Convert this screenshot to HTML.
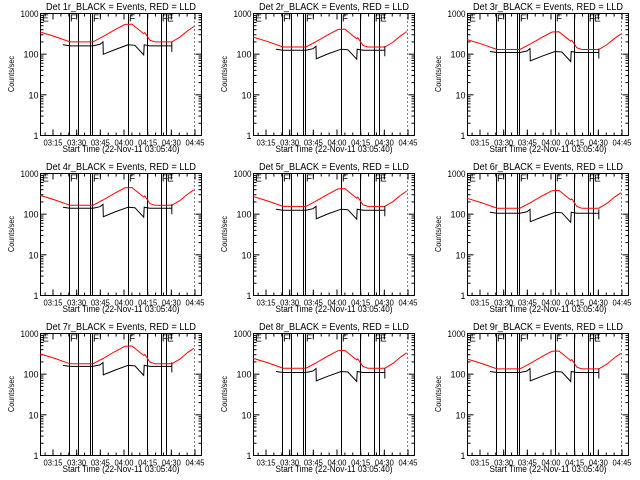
<!DOCTYPE html>
<html><head><meta charset="utf-8">
<style>
html,body{margin:0;padding:0;background:#fff;}
svg{display:block;font-family:"Liberation Sans",sans-serif;}
</style></head>
<body>
<svg id="chart" width="640" height="480" viewBox="0 0 640 480" xmlns="http://www.w3.org/2000/svg"></svg>
<script>
// Time in minutes after 03:00
const redTimes  = [6.8, 16.3, 25.8, 40.3, 46.7, 54.3, 60.6, 65, 70.1, 72.5, 73.2, 76.4, 79.5, 90.3, 95.3, 100.4, 104.2];
const redShape  = [1.75, 1.35, 1.0, 1.0, 1.35, 2.0, 2.7, 2.75, 1.9, 1.6, 1.7, 1.1, 1.0, 1.0, 1.3, 1.9, 2.4];
const blackTimes = [21.3, 25.8, 40.3, 44.8, 46.7, 46.9, 54.3, 62.5, 66.9, 72.5, 72.8, 76.4, 90.3];
const blackShape = [1.06, 1.0, 1.0, 1.09, 1.25, 0.62, 0.81, 1.06, 1.03, 0.6, 1.06, 1.0, 1.0];
const panelTitles = ["Det 1r_BLACK = Events, RED = LLD","Det 2r_BLACK = Events, RED = LLD","Det 3r_BLACK = Events, RED = LLD",
  "Det 4r_BLACK = Events, RED = LLD","Det 5r_BLACK = Events, RED = LLD","Det 6r_BLACK = Events, RED = LLD",
  "Det 7r_BLACK = Events, RED = LLD","Det 8r_BLACK = Events, RED = LLD","Det 9r_BLACK = Events, RED = LLD"];
const redLevels   = [200, 150, 130, 165, 155, 140, 180, 140, 135];
const blackLevels = [160, 125, 110, 140, 125, 105, 155, 110, 110];
const eventTimes  = [25.1, 30.8, 38.4, 39.7, 62.5, 74.6, 83.4, 86.6];
const eventLabels = [{t:7.5,s:"E"},{t:25.1,s:"F"},{t:39.7,s:"F"},{t:62.5,s:"F"},{t:83.4,s:"F"},{t:86.6,s:"E"}];
const dottedTime = 104.4;
const xTickTimes  = [15, 30, 45, 60, 75, 90, 105];
const xTickLabels = ["03:15","03:30","03:45","04:00","04:15","04:30","04:45"];
const yTickValues = [1, 10, 100, 1000];
const yTickLabels = ["1","10","100","1000"];

const svg = document.getElementById('chart');
const NS = "http://www.w3.org/2000/svg";
function mk(tag, attrs, parent){ const e=document.createElementNS(NS,tag); for(const k in attrs) e.setAttribute(k,attrs[k]); parent.appendChild(e); return e; }

for (let p=0;p<9;p++){
  const ox = [0,213,427][p%3], oy = [0,160,320][Math.floor(p/3)];
  const L=ox+40.5, R=ox+201.5, T=oy+13.5, B=oy+135.5;
  const xs = t => ox+53+(t-15)*1.578;
  const ys = v => B-(Math.log10(v))*(B-T)/3;
  const g = mk('g',{},svg);
  
  
  const title = mk('text',{x:ox+121,y:oy+10,'font-size':'10','text-anchor':'middle',fill:'#000',textLength:150,lengthAdjust:'spacingAndGlyphs'},g);
  title.textContent = panelTitles[p];
  
  
  const frame = mk('rect',{x:L,y:T,width:R-L,height:B-T,fill:'none',stroke:'#000','stroke-width':1},g);
  
  
  for (let d=0; d<3; d++){
    for (let m=2;m<10;m++){
      const y=ys(Math.pow(10,d)*m);
      mk('line',{x1:L,x2:L+3,y1:y,y2:y,stroke:'#000'},g);
      mk('line',{x1:R,x2:R-3,y1:y,y2:y,stroke:'#000'},g);
    }
  }
  yTickValues.forEach((v,i)=>{
    const y=ys(v);
    mk('line',{x1:L,x2:L+6,y1:y,y2:y,stroke:'#000'},g);
    mk('line',{x1:R,x2:R-6,y1:y,y2:y,stroke:'#000'},g);
    const tl=mk('text',{x:L-2,y:y+3.5,'font-size':'9','text-anchor':'end',fill:'#000'},g);
    tl.textContent=yTickLabels[i];
    if (yTickLabels[i].length===4){ tl.setAttribute('textLength','18'); tl.setAttribute('lengthAdjust','spacingAndGlyphs'); }
    
    
  });
  for (let t=10;t<=105;t+=5){
    const x=xs(t); if(x<L||x>R) continue;
    mk('line',{x1:x,x2:x,y1:B,y2:B-3,stroke:'#000'},g);
    mk('line',{x1:x,x2:x,y1:T,y2:T+3,stroke:'#000'},g);
  }
  xTickTimes.forEach((t,i)=>{
    const x=xs(t);
    mk('line',{x1:x,x2:x,y1:B,y2:B-6,stroke:'#000'},g);
    mk('line',{x1:x,x2:x,y1:T,y2:T+6,stroke:'#000'},g);
    const tl=mk('text',{x:x,y:B+10,'font-size':'8','text-anchor':'middle',fill:'#000',textLength:19,lengthAdjust:'spacingAndGlyphs'},g);
    tl.textContent=xTickLabels[i];
    
    
  });
  const xt=mk('text',{x:ox+121,y:oy+152,'font-size':'9','text-anchor':'middle',fill:'#000',textLength:117,lengthAdjust:'spacingAndGlyphs'},g);
  xt.textContent="Start Time (22-Nov-11 03:05:40)";
  
  
  const yt=mk('text',{x:ox+14,y:oy+74,'font-size':'8','text-anchor':'middle',fill:'#000',textLength:36,lengthAdjust:'spacingAndGlyphs',transform:`rotate(-90 ${ox+14} ${oy+74})`},g);
  yt.textContent="Counts/sec";
  
  
  eventTimes.forEach(t=>{
    const x=Math.round(xs(t))+0.5;
    const ln=mk('line',{x1:x,x2:x,y1:T,y2:B,stroke:'#000','stroke-width':1},g);
    
    
  });
  const dx=Math.round(xs(dottedTime))+0.5;
  const dl=mk('line',{x1:dx,x2:dx,y1:T,y2:B,stroke:'#000','stroke-dasharray':'1,3'},g);
  
  
  eventLabels.forEach(e=>{
    const tx=mk('text',{x:xs(e.t)+1,y:T+8,'font-size':'10',fill:'#000'},g);
    tx.textContent=e.s;
    
    
  });
  const rp=redTimes.map((t,i)=>xs(t).toFixed(1)+','+ys(redShape[i]*redLevels[p]).toFixed(1)).join(' ');
  const red=mk('polyline',{points:rp,fill:'none',stroke:'#ff0000','stroke-width':1},g);
  
  
  const bp=blackTimes.map((t,i)=>xs(t).toFixed(1)+','+ys(blackShape[i]*blackLevels[p]).toFixed(1)).join(' ');
  const blk=mk('polyline',{points:bp,fill:'none',stroke:'#000','stroke-width':1},g);
  
  
  const last=blackTimes.length-1, ex=xs(blackTimes[last]), ey=ys(blackShape[last]*blackLevels[p]);
  mk('line',{x1:ex,x2:ex,y1:ey-4,y2:ey+6,stroke:'#000'},g);
}
</script>
</body></html>
